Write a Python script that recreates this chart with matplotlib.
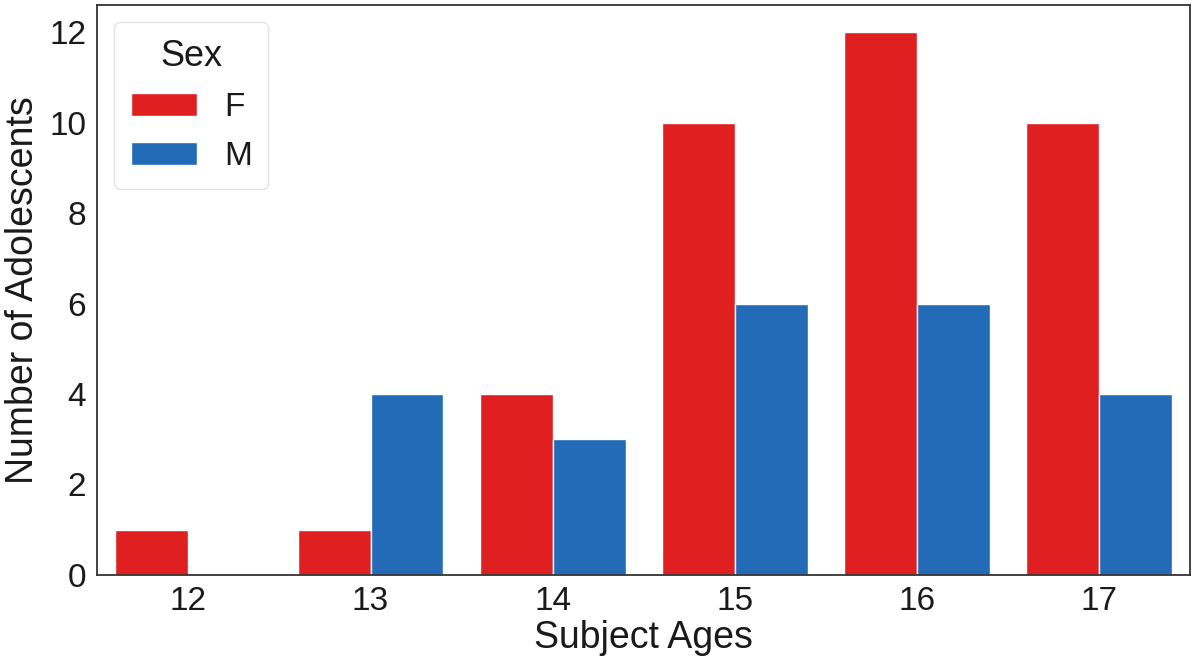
import numpy as np
import matplotlib
matplotlib.use("Agg")
import matplotlib.pyplot as plt

ages = ["12", "13", "14", "15", "16", "17"]
female = [1, 1, 4, 10, 12, 10]
male = [0, 4, 3, 6, 6, 4]

plt.rcParams['font.family'] = ['Liberation Sans', 'DejaVu Sans']

fig = plt.figure(figsize=(12, 6.66), dpi=100)
ax = fig.add_axes([0.081, 0.137, 0.911, 0.855])

x = np.arange(len(ages))
w = 0.4
ax.bar(x - w / 2, female, w, color="#e02020", edgecolor="white", linewidth=1, label="F")
ax.bar(x + w / 2, male, w, color="#236bb7", edgecolor="white", linewidth=1, label="M")

ax.set_xticks(x)
ax.set_xticklabels(ages)
ax.set_xlim(-0.5, 5.5)
ax.set_ylim(0, 12.6)
ax.set_yticks([0, 2, 4, 6, 8, 10, 12])
ax.tick_params(labelsize=24, length=0, pad=8, colors="#1a1a1a")
ax.set_xlabel("Subject Ages", fontsize=27, color="#1a1a1a", labelpad=2)
ax.set_ylabel("Number of Adolescents", fontsize=27, color="#1a1a1a", labelpad=6)
for s in ax.spines.values():
    s.set_color("#333333")
    s.set_linewidth(1.3)

leg = ax.legend(title="Sex", fontsize=24, title_fontsize=26, loc="upper left",
                frameon=True, fancybox=True, borderpad=0.5, handlelength=2.0,
                handletextpad=0.8, labelspacing=0.55)
leg.get_frame().set_edgecolor("#dddddd")
leg.get_title().set_color("#1a1a1a")
for t in leg.get_texts():
    t.set_color("#1a1a1a")

fig.savefig("out.png", dpi=100)
